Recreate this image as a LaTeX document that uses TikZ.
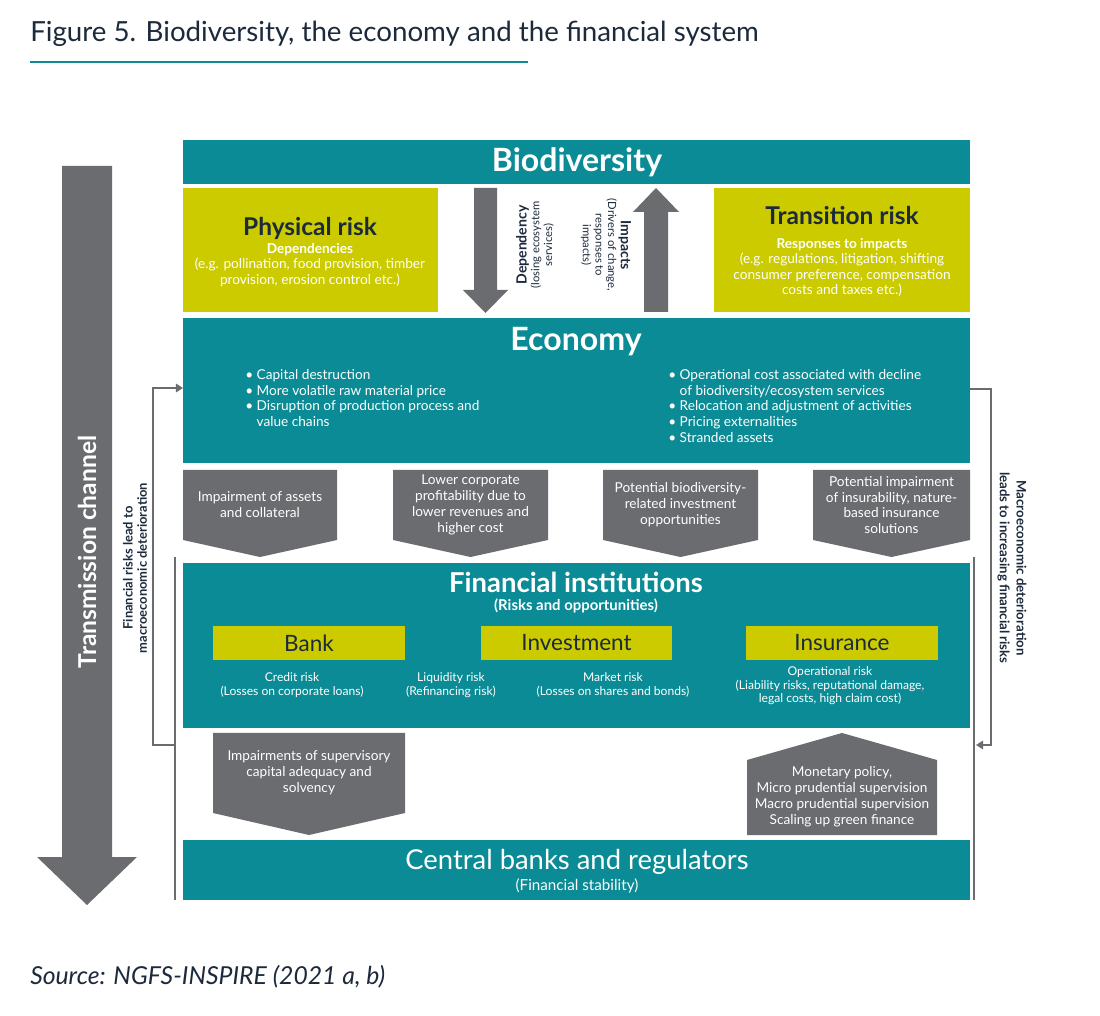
\documentclass[tikz,border=0pt]{standalone}
\usepackage{fontspec}
\setmainfont{Lato}
\usetikzlibrary{fit,arrows.meta}

\definecolor{ngfsteal}{HTML}{0A8B95}
\definecolor{ngfsyellow}{HTML}{CBCB00}
\definecolor{ngfsgray}{HTML}{6B6C6F}
\definecolor{ngfsnavy}{HTML}{1C2A3C}

\begin{document}
\begin{tikzpicture}[
    x=0.025cm, y=-0.025cm,
    bar/.style={fill=ngfsteal, inner sep=0pt},
    riskbox/.style={fill=ngfsyellow, inner sep=0pt},
    headline/.style={text=white, font=\bfseries\fontsize{22.8}{26}\selectfont},
    subhead/.style={text=white, font=\fontsize{9.7}{11}\selectfont, align=center},
    riskhead/.style={text=ngfsnavy, font=\bfseries\fontsize{17.4}{20}\selectfont},
    whitetxt/.style={text=white, font=\fontsize{9.7}{11.3}\selectfont, align=center},
    smalltxt/.style={text=white, font=\fontsize{8.6}{9.6}\selectfont, align=center},
    sidetxt/.style={text=ngfsnavy, font=\bfseries\fontsize{9.2}{10}\selectfont, align=center},
    chevron/.style={fill=ngfsgray},
    fb/.style={draw=ngfsgray, line width=1.5pt},
    tip/.style={-{Triangle[length=5pt, width=6pt]}},
]

% ---- 画布 ----
\useasboundingbox (0,0) rectangle (1100,1016);
\fill[white] (0,0) rectangle (1100,1016);

% ---- 标题 ----
\node[anchor=base west, inner sep=0pt, text=ngfsnavy, font=\fontsize{19.7}{22}\selectfont]
    (title) at (30,42) {Figure 5. Biodiversity, the economy and the financial system};
\draw[ngfsteal, line width=0.8pt] (30,62) -- (528,62);

% ---- 横条 ----
\node[bar, fit={(183,140) (970,184)}] (bio) {};
\node[bar, fit={(183,318) (970,463)}] (econ) {};
\node[bar, fit={(183,563) (970,728)}] (fin) {};
\node[bar, fit={(183,840) (970,900)}] (cb) {};

\node[headline] (biotxt) at (577,162) {Biodiversity};
\node[headline] (econtxt) at (576,342) {Economy};
\node[text=white, font=\bfseries\fontsize{19.5}{22}\selectfont] (fintxt) at (576,582) {Financial institutions};
\node[subhead, font=\bfseries\fontsize{10.6}{12}\selectfont] (finsub) at (576,606) {(Risks and opportunities)};
\node[text=white, font=\fontsize{19.5}{22}\selectfont] (cbtxt) at (577,862) {Central banks and regulators};
\node[subhead, font=\fontsize{10.8}{12}\selectfont] (cbsub) at (577,886) {(Financial stability)};

% ---- 风险框 ----
\node[riskbox, fit={(183,188) (438,312)}] (phys) {};
\node[riskbox, fit={(714,188) (970,312)}] (trans) {};

\node[riskhead] (physhead) at (310,228) {Physical risk};
\node[subhead, anchor=north] (physsub) at (310,238) {\textbf{Dependencies}\\
    (e.g. pollination, food provision, timber\\provision, erosion control etc.)};
\node[riskhead] (transhead) at (842,216) {Transition risk};
\node[subhead, anchor=north] (transsub) at (842,233) {\textbf{Responses to impacts}\\
    (e.g. regulations, litigation, shifting\\consumer preference, compensation\\costs and taxes etc.)};

% ---- 依赖 / 影响 箭头 ----
\fill[ngfsgray] (474,188) -- (497,188) -- (497,290) -- (508,290) -- (485.5,313)
    -- (463,290) -- (474,290) -- cycle;
\fill[ngfsgray] (644,312) -- (668,312) -- (668,212) -- (679,212) -- (656,188)
    -- (633,212) -- (644,212) -- cycle;
\node[rotate=90, align=center, text=ngfsnavy, font=\fontsize{8}{9}\selectfont]
    (dep) at (535,245) {{\bfseries\fontsize{10}{11}\selectfont Dependency}\\(losing ecosystem\\services)};
\node[rotate=-90, align=center, text=ngfsnavy, font=\fontsize{8}{9}\selectfont]
    (imp) at (606,245) {{\bfseries\fontsize{10}{11}\selectfont Impacts}\\(Drivers of change,\\responses to\\impacts)};

% ---- 经济要点 ----
\node[anchor=north west, inner sep=0pt, align=left, text=white, font=\fontsize{9.7}{11.2}\selectfont]
    (econl) at (245,369) {\textbullet\ Capital destruction\\
    \textbullet\ More volatile raw material price\\
    \textbullet\ Disruption of production process and\\
    \hphantom{\textbullet\ }value chains};
\node[anchor=north west, inner sep=0pt, align=left, text=white, font=\fontsize{9.7}{11.2}\selectfont]
    (econr) at (668,369) {\textbullet\ Operational cost associated with decline\\
    \hphantom{\textbullet\ }of biodiversity/ecosystem services\\
    \textbullet\ Relocation and adjustment of activities\\
    \textbullet\ Pricing externalities\\
    \textbullet\ Stranded assets};

% ---- 传导箭头 (向下) ----
\foreach \xl/\xr/\lbl/\txt in {
    183/337/assets/{Impairment of assets\\and collateral},
    393/548/profit/{Lower corporate\\profitability due to\\lower revenues and\\higher cost},
    603/758/invest/{Potential biodiversity-\\related investment\\opportunities},
    813/970/insur/{Potential impairment\\of insurability, nature-\\based insurance\\solutions}} {
    \fill[chevron] (\xl,470) -- (\xr,470) -- (\xr,540) -- ({(\xl+\xr)/2},557) -- (\xl,540) -- cycle;
    \node[whitetxt] (ch-\lbl) at ({(\xl+\xr)/2},505) {\txt};
}

% ---- 机构 ----
\node[riskbox, fit={(213,626) (405,660)}] (bank) {};
\node[riskbox, fit={(481,626) (672,660)}] (inv) {};
\node[riskbox, fit={(746,626) (938,660)}] (ins) {};
\node[text=ngfsnavy, font=\fontsize{16}{18}\selectfont] (banktxt) at (bank) {Bank};
\node[text=ngfsnavy, font=\fontsize{16}{18}\selectfont] (invtxt) at (inv) {Investment};
\node[text=ngfsnavy, font=\fontsize{16}{18}\selectfont] (instxt) at (ins) {Insurance};

\node[smalltxt] (credit) at (292,685) {Credit risk\\(Losses on corporate loans)};
\node[smalltxt] (liquid) at (451,685) {Liquidity risk\\(Refinancing risk)};
\node[smalltxt] (market) at (613,685) {Market risk\\(Losses on shares and bonds)};
\node[smalltxt] (oper) at (830,686) {Operational risk\\(Liability risks, reputational damage,\\legal costs, high claim cost)};

% ---- 监管 ----
\fill[chevron] (213,733) -- (405,733) -- (405,813) -- (309,835) -- (213,813) -- cycle;
\node[whitetxt] (superv) at (309,773) {Impairments of supervisory\\capital adequacy and\\solvency};
\fill[chevron] (747,760) -- (842,733) -- (937,760) -- (937,835) -- (747,835) -- cycle;
\node[whitetxt] (policy) at (842,797) {Monetary policy,\\Micro prudential supervision\\Macro prudential supervision\\Scaling up green finance};

% ---- 传导通道 ----
\fill[ngfsgray] (62,166) -- (112,166) -- (112,857) -- (137,857) -- (87,905)
    -- (37,857) -- (62,857) -- cycle;
\node[rotate=90, text=white, font=\bfseries\fontsize{17.5}{20}\selectfont] (trch) at (87,552) {Transmission channel};

% ---- 反馈 ----
\coordinate (lfb) at (175,745);
\coordinate (lin) at (183,388);
\draw[fb, tip] (lfb) -- (153,745) -- (153,388) -- (lin);
\draw[fb] (175,557) -- (175,900);
\node[sidetxt, rotate=90] (lfbtxt) at (135,568) {Financial risks lead to\\macroeconomic deterioration};

\coordinate (rout) at (970,389);
\coordinate (rin) at (976,745);
\draw[fb, tip] (rout) -- (991,389) -- (991,745) -- (rin);
\draw[fb] (974,557) -- (974,900);
\node[sidetxt, rotate=-90, font=\bfseries\fontsize{9.4}{12}\selectfont] (rfbtxt) at (1012,568) {Macroeconomic deterioration\\leads to increasing financial risks};

% ---- 来源 ----
\node[anchor=base west, inner sep=0pt, text=ngfsnavy, font=\itshape\fontsize{17.6}{20}\selectfont]
    (src) at (30,984) {Source: NGFS-INSPIRE (2021 a, b)};

\end{tikzpicture}
\end{document}
